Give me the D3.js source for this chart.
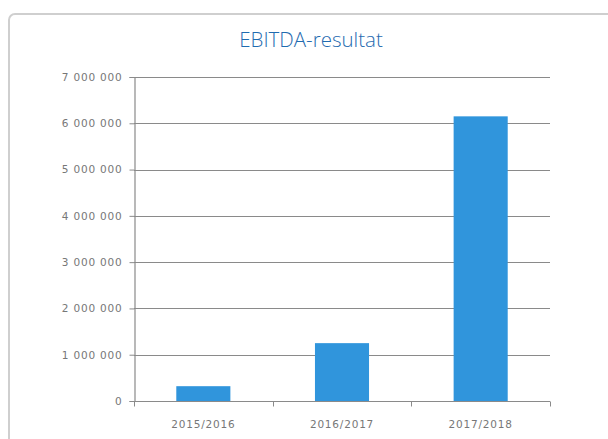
<!DOCTYPE html>
<html>
<head>
<meta charset="utf-8">
<script src="https://cdn.jsdelivr.net/npm/d3@7"></script>
<style>
    body { margin: 0; background: #fff; }
    svg { display: block; }
</style>
</head>
<body>
<div id="chart"></div>
<script>

var categories = ['2015/2016', '2016/2017', '2017/2018'];
var values = [320000, 1250000, 6150000];
var yTicks = [0, 1000000, 2000000, 3000000, 4000000, 5000000, 6000000, 7000000];
var title = 'EBITDA-resultat';

var width = 608,
    height = 439,
    margin = {top: 77, right: 58, bottom: 38, left: 134};

var svg = d3.select('#chart').append('svg')
    .attr('width', width)
    .attr('height', height);

// frame round the chart, open at right and bottom like the crop
svg.append('rect')
    .attr('x', 9)
    .attr('y', 14)
    .attr('width', 640)
    .attr('height', 480)
    .attr('rx', 6)
    .attr('fill', 'none')
    .attr('stroke', '#cfcfcf')
    .attr('stroke-width', 2);

svg.append('text')
    .attr('x', 311)
    .attr('y', 47)
    .attr('text-anchor', 'middle')
    .style('font-family', 'Open Sans')
    .style('font-weight', 300)
    .style('font-size', '20.5px')
    .style('fill', '#1f6bb0')
    .text(title);

var x = d3.scaleBand()
    .domain(categories)
    .range([margin.left, width - margin.right])
    .paddingInner(0.61)
    .paddingOuter(0.305);

var y = d3.scaleLinear()
    .domain([0, 7000000])
    .range([height - margin.bottom, margin.top]);

var fmt = function (d) {
    return d3.format(',')(d).replace(/,/g, ' ');
};

// grid
svg.append('g')
    .selectAll('line')
    .data(yTicks.filter(d => d > 0))
    .enter().append('line')
    .attr('x1', margin.left)
    .attr('x2', width - margin.right)
    .attr('y1', d => Math.round(y(d)) + 0.5)
    .attr('y2', d => Math.round(y(d)) + 0.5)
    .attr('stroke', '#8a8a8a')
    .attr('stroke-width', 1.2);

// bars
svg.append('g')
    .selectAll('rect')
    .data(values)
    .enter().append('rect')
    .attr('x', (d, i) => x(categories[i]))
    .attr('y', d => y(d))
    .attr('width', x.bandwidth())
    .attr('height', d => y(0) - y(d))
    .attr('fill', '#3095dc');

// y axis
var gY = svg.append('g')
    .attr('transform', 'translate(' + (margin.left + 0.5) + ',0)')
    .call(d3.axisLeft(y).tickValues(yTicks).tickFormat(fmt).tickSize(5).tickPadding(7));

// x axis
var xLin = d3.scaleLinear().domain([0, 3]).range([margin.left, width - margin.right]);
var gX = svg.append('g')
    .attr('transform', 'translate(0,' + (Math.round(y(0)) + 0.5) + ')');
gX.append('line')
    .attr('x1', margin.left)
    .attr('x2', width - margin.right)
    .attr('stroke', '#8a8a8a')
    .attr('stroke-width', 1.2);
gX.selectAll('.xt')
    .data([0, 1, 2, 3])
    .enter().append('line')
    .attr('x1', d => Math.round(xLin(d)) + 0.5)
    .attr('x2', d => Math.round(xLin(d)) + 0.5)
    .attr('y1', 0)
    .attr('y2', 5)
    .attr('stroke', '#8a8a8a');
gX.selectAll('text')
    .data(categories)
    .enter().append('text')
    .attr('x', d => x(d) + x.bandwidth() / 2)
    .attr('y', 26)
    .attr('text-anchor', 'middle')
    .text(d => d);

gY.select('.domain').attr('stroke', '#8a8a8a').attr('stroke-width', 1.2);
gY.selectAll('.tick line').attr('stroke', '#8a8a8a');

svg.selectAll('g text')
    .style('font-family', 'DejaVu Sans')
    .style('font-size', '10.5px')
    .style('letter-spacing', '0.8px')
    .style('fill', '#777');

</script>
</body>
</html>
